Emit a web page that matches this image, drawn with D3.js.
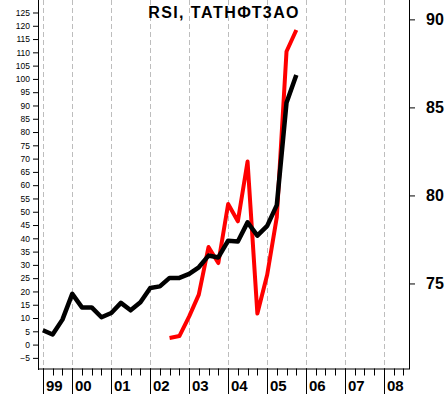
<!DOCTYPE html>
<html>
<head>
<meta charset="utf-8">
<script src="https://cdn.jsdelivr.net/npm/d3@7"></script>
<style>
  body { margin: 0; background: #fff; }
  svg { display: block; }
</style>
</head>
<body>
<svg id="chart"></svg>
<script>
// quarterly series, both read against the left scale
const quarters = [
  "1999-04-01", "1999-07-01", "1999-10-01",
  "2000-01-01", "2000-04-01", "2000-07-01", "2000-10-01",
  "2001-01-01", "2001-04-01", "2001-07-01", "2001-10-01",
  "2002-01-01", "2002-04-01", "2002-07-01", "2002-10-01",
  "2003-01-01", "2003-04-01", "2003-07-01", "2003-10-01",
  "2004-01-01", "2004-04-01", "2004-07-01", "2004-10-01",
  "2005-01-01", "2005-04-01", "2005-07-01", "2005-10-01"
];
const priceLine = [5.4, 3.8, 9.4, 19.1, 14.0, 14.0, 10.3, 11.9, 15.7, 12.9, 15.9, 21.3, 21.9,
  25.1, 25.1, 26.6, 29.1, 33.5, 32.8, 39.1, 38.8, 46.0, 41.0, 44.7, 52.5, 91.0, 101.5];
const rsiLine = [null, null, null, null, null, null, null, null, null, null, null, null, null,
  2.5, 3.2, 10.6, 18.8, 36.7, 30.7, 52.9, 46.4, 68.9, 11.7, 26.3, 48.0, 110.3, 118.4];

const yearLabels = ["99", "00", "01", "02", "03", "04", "05", "06", "07", "08"];
const yearMarks = ["1999-04-01", "2000-01-01", "2001-01-01", "2002-01-01", "2003-01-01",
  "2004-01-01", "2005-01-01", "2006-01-01", "2007-01-01", "2008-01-01"];
const leftTickLabels = [-5, 0, 5, 10, 15, 20, 25, 30, 35, 40, 45, 50, 55, 60, 65, 70, 75, 80,
  85, 90, 95, 100, 105, 110, 115, 120, 125];
const rightTickLabels = [75, 80, 85, 90];

const W = 447, H = 394;
const left = 38, right = 409, bottom = 368.5;

const svg = d3.select('#chart')
    .attr('width', W)
    .attr('height', H);

const parse = d3.timeParse('%Y-%m-%d');

const x = d3.scaleTime()
    .domain([parse('1999-02-14'), parse('2008-08-22')])
    .range([left, right]);
const yL = d3.scaleLinear().domain([-9.0, 129.7]).range([bottom, 0]);
const yR = d3.scaleLinear().domain([70.17, 91.1]).range([bottom, 0]);

// dashed year gridlines
svg.append('g').selectAll('line')
    .data(yearMarks)
    .enter().append('line')
    .attr('x1', d => Math.round(x(parse(d))) + 0.5)
    .attr('x2', d => Math.round(x(parse(d))) + 0.5)
    .attr('y1', 0)
    .attr('y2', bottom)
    .attr('stroke', '#bdbdbd')
    .attr('stroke-dasharray', '5,3');

// lines
const rows = quarters.map((q, i) => ({date: parse(q), price: priceLine[i], rsi: rsiLine[i]}));

const rsiPath = d3.line()
    .defined(d => d.rsi !== null)
    .x(d => x(d.date))
    .y(d => yL(d.rsi));
const pricePath = d3.line()
    .x(d => x(d.date))
    .y(d => yL(d.price));

svg.append('path')
    .datum(rows)
    .attr('d', rsiPath)
    .attr('fill', 'none')
    .attr('stroke', '#ff0000')
    .attr('stroke-width', 4)
    .attr('stroke-linejoin', 'round');
svg.append('path')
    .datum(rows)
    .attr('d', pricePath)
    .attr('fill', 'none')
    .attr('stroke', '#000')
    .attr('stroke-width', 4.5)
    .attr('stroke-linejoin', 'round');

// left axis
const gL = svg.append('g').attr('transform', 'translate(' + left + ',0)');
gL.call(d3.axisLeft(yL).tickValues(d3.range(-8, 130)).tickSize(3).tickFormat(''));
gL.call(d3.axisLeft(yL).tickValues(leftTickLabels).tickSize(5).tickPadding(3));
gL.select('.domain').remove();
gL.selectAll('text')
    .attr('font-family', 'Liberation Sans, Arial, sans-serif')
    .attr('font-size', 8.5)
    .attr('fill', '#000');
gL.selectAll('line').attr('stroke', '#000');

// right axis
const gR = svg.append('g').attr('transform', 'translate(' + right + ',0)');
gR.call(d3.axisRight(yR).tickValues(d3.range(71, 92)).tickSize(4).tickFormat(''));
gR.call(d3.axisRight(yR).tickValues(rightTickLabels).tickSize(6).tickPadding(11));
gR.select('.domain').remove();
gR.selectAll('text')
    .attr('font-family', 'Liberation Sans, Arial, sans-serif')
    .attr('font-weight', 'bold')
    .attr('font-size', 16)
    .attr('fill', '#000');
gR.selectAll('line').attr('stroke', '#000');

// frame lines
svg.append('line')
    .attr('x1', left + 0.5).attr('x2', left + 0.5)
    .attr('y1', 0).attr('y2', bottom + 1.5)
    .attr('stroke', '#000');
svg.append('line')
    .attr('x1', right + 0.5).attr('x2', right + 0.5)
    .attr('y1', 0).attr('y2', bottom + 0.5)
    .attr('stroke', '#000');
svg.append('line')
    .attr('x1', left).attr('x2', right + 1)
    .attr('y1', bottom + 0.5).attr('y2', bottom + 0.5)
    .attr('stroke', '#000');

// quarter ticks under the plot
const qTicks = d3.timeMonth.every(3).range(parse('1999-04-01'), parse('2008-08-22'));
svg.append('g').selectAll('line')
    .data(qTicks)
    .enter().append('line')
    .attr('x1', d => Math.round(x(d)) + 0.5)
    .attr('x2', d => Math.round(x(d)) + 0.5)
    .attr('y1', bottom)
    .attr('y2', bottom + 7)
    .attr('stroke', '#000');

// year separators and labels
const years = svg.append('g');
years.selectAll('line')
    .data(yearMarks)
    .enter().append('line')
    .attr('x1', d => Math.round(x(parse(d))) + 0.5)
    .attr('x2', d => Math.round(x(parse(d))) + 0.5)
    .attr('y1', bottom)
    .attr('y2', H)
    .attr('stroke', '#000');
years.selectAll('text')
    .data(yearMarks)
    .enter().append('text')
    .attr('x', d => Math.round(x(parse(d))) + 3)
    .attr('y', 390.5)
    .attr('font-family', 'Liberation Sans, Arial, sans-serif')
    .attr('font-weight', 'bold')
    .attr('font-size', 15)
    .text((d, i) => yearLabels[i]);

// title
svg.append('text')
    .attr('x', 224)
    .attr('y', 18.3)
    .attr('text-anchor', 'middle')
    .attr('font-family', 'Liberation Sans, Arial, sans-serif')
    .attr('font-weight', 'bold')
    .attr('font-size', 16)
    .attr('letter-spacing', 1.4)
    .text('RSI, ТАТНФТ3АО');
</script>
</body>
</html>
